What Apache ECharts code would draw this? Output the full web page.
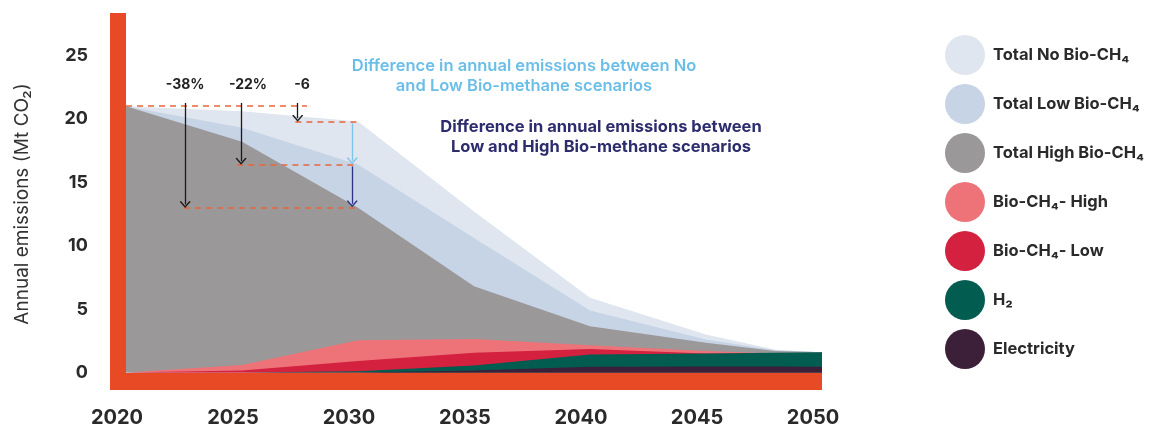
<!DOCTYPE html>
<html>
<head>
<meta charset="utf-8">
<script src="https://cdn.jsdelivr.net/npm/echarts@6.0.0/dist/echarts.min.js"></script>
<style>
  html, body { margin: 0; padding: 0; background: #ffffff; }
  #chart { width: 1156px; height: 428px; }
</style>
</head>
<body>
<div id="chart"></div>
<script>
// ---------------- data ----------------
const years      = [2020, 2025, 2030, 2035, 2040, 2045, 2048, 2050];
const totalNo    = [21.0, 20.6, 19.8, 12.7, 5.9, 3.0, 1.8, 1.6];
const totalLow   = [21.0, 19.3, 16.4, 10.6, 4.9, 2.6, 1.75, 1.6];
const totalHigh  = [21.0, 18.2, 13.0, 6.8, 3.65, 2.35, 1.7, 1.6];
const bioHigh    = [0, 0.6, 2.55, 2.65, 2.15, 1.7, 1.5, 1.5];
const bioLow     = [0, 0.15, 0.9, 1.55, 1.85, 1.5, 1.5, 1.5];
const h2         = [0, 0, 0.1, 0.55, 1.42, 1.5, 1.55, 1.6];
const electricity= [0, 0, 0, 0.15, 0.45, 0.48, 0.47, 0.45];

const seriesNames = ['Total No Bio-CH\u2084', 'Total Low Bio-CH\u2084', 'Total High Bio-CH\u2084',
                     'Bio-CH\u2084- High', 'Bio-CH\u2084- Low', 'H\u2082', 'Electricity'];
const xTickLabels = [2020, 2025, 2030, 2035, 2040, 2045, 2050];
const yTickLabels = [0, 5, 10, 15, 20, 25];

// annotation data
const dropLabels     = ['-38%', '-22%', '-6'];
const dropLabelYears = [2022.55, 2025.26, 2027.59];
const dropArrowYears = [2022.55, 2024.96, 2027.4];
const dropStartYears = [2022.5, 2024.8, 2027.3];
const refYear = 2030;
const arrowTop = 21.26;
const labelLevel = 22.7;
const baseDashEnd = 2027.8;
const diffArrowYear = 2029.75;

// ---------------- styles ----------------
const colors = ['#E0E6EF', '#C6D4E5', '#9A9899', '#EE7379', '#D3213F', '#035C50', '#3C1F38'];
const axisRed = '#E84A25';
const dashColor = '#E8663A';
const FONT = 'Inter, "Noto Sans", sans-serif';
const chevron = 'path://M0,9 L6,0 L12,9 L10.6,10 L6,3 L1.4,10 Z';

const allData = [totalNo, totalLow, totalHigh, bioHigh, bioLow, h2, electricity];

function areaSeries(i) {
  return {
    name: seriesNames[i],
    type: 'line',
    data: years.map((y, k) => [y, allData[i][k]]),
    symbol: 'none',
    color: colors[i],
    itemStyle: { color: colors[i] },
    lineStyle: { width: 0 },
    areaStyle: { color: colors[i], opacity: 1, origin: 0 },
    silent: true,
    z: 2
  };
}

const series = seriesNames.map((n, i) => areaSeries(i));

const dashStyle = { color: dashColor, type: [6, 5], width: 1.6 };
const levels = [totalHigh[2], totalLow[2], totalNo[2]];

const mlData = [];
mlData.push([{ coord: [years[0], totalNo[0]], lineStyle: dashStyle }, { coord: [baseDashEnd, totalNo[0]] }]);
for (let i = 0; i < 3; i++) {
  mlData.push([{ coord: [dropStartYears[i], levels[i]], lineStyle: dashStyle }, { coord: [refYear, levels[i]] }]);
}
for (let i = 0; i < 3; i++) {
  mlData.push([
    { coord: [dropArrowYears[i], arrowTop], lineStyle: { color: '#1a1a1a', width: 1.3, type: 'solid' } },
    { coord: [dropArrowYears[i], levels[i] + 0.25], symbol: chevron, symbolSize: [11, 7] }
  ]);
}
mlData.push([
  { coord: [diffArrowYear, totalNo[2] - 0.15], lineStyle: { color: '#7EC4EA', width: 1.3, type: 'solid' } },
  { coord: [diffArrowYear, totalLow[2] + 0.3], symbol: chevron, symbolSize: [11, 7] }
]);
mlData.push([
  { coord: [diffArrowYear, totalLow[2] - 0.15], lineStyle: { color: '#2E3282', width: 1.3, type: 'solid' } },
  { coord: [diffArrowYear, totalHigh[2] + 0.3], symbol: chevron, symbolSize: [11, 7] }
]);

series[6].markLine = {
  silent: true,
  symbol: ['none', 'none'],
  animation: false,
  label: { show: false },
  data: mlData
};
series[6].markPoint = {
  silent: true,
  symbol: 'circle',
  symbolSize: 0,
  animation: false,
  label: {
    show: true, position: 'inside', color: '#222', fontSize: 14, fontWeight: 'bold',
    fontFamily: FONT, formatter: p => p.name
  },
  data: dropLabels.map((t, i) => ({ name: t, coord: [dropLabelYears[i], labelLevel] }))
};

const option = {
  animation: false,
  backgroundColor: '#ffffff',
  grid: { left: 110, right: 334, top: 13, bottom: 46.5, containLabel: false },
  xAxis: {
    type: 'value',
    min: 2019.31,
    max: 2050,
    axisLine: { show: true, onZero: false, lineStyle: { color: axisRed, width: 17, cap: 'butt' } },
    axisTick: { show: false },
    splitLine: { show: false },
    axisLabel: {
      customValues: xTickLabels,
      formatter: v => String(v),
      margin: 27,
      padding: [0, 18, 0, 0],
      color: '#2a2a2a', fontSize: 20, fontWeight: 'bold', fontFamily: FONT
    }
  },
  yAxis: {
    type: 'value',
    min: -0.669,
    max: 28.35,
    offset: -8,
    name: 'Annual emissions (Mt CO\u2082)',
    nameLocation: 'middle',
    nameGap: 86,
    nameTextStyle: { color: '#333', fontSize: 19, fontFamily: FONT, fontWeight: 'normal', padding: [0, 14, 0, 0] },
    axisLine: { show: true, onZero: false, lineStyle: { color: axisRed, width: 16, cap: 'butt' } },
    axisTick: { show: false },
    splitLine: { show: false },
    axisLabel: {
      customValues: yTickLabels,
      margin: 30,
      color: '#2a2a2a', fontSize: 18, fontWeight: 'bold', fontFamily: FONT
    }
  },
  legend: {
    orient: 'vertical',
    left: 945,
    top: 35,
    padding: 0,
    itemWidth: 40,
    itemHeight: 40,
    itemGap: 9,
    icon: 'circle',
    selectedMode: false,
    data: seriesNames,
    textStyle: { color: '#2a2a2a', fontSize: 16.5, fontWeight: 'bold', fontFamily: FONT, padding: [0, 0, 0, 3] }
  },
  graphic: [
    {
      type: 'text', silent: true,
      style: {
        x: 524, y: 56, text: 'Difference in annual emissions between No\nand Low Bio-methane scenarios',
        align: 'center', verticalAlign: 'top', lineHeight: 20,
        font: '600 16.5px ' + FONT, fill: '#6BBEE8'
      }
    },
    {
      type: 'text', silent: true,
      style: {
        x: 601, y: 117, text: 'Difference in annual emissions between\nLow and High Bio-methane scenarios',
        align: 'center', verticalAlign: 'top', lineHeight: 20,
        font: '700 16.5px ' + FONT, fill: '#2D2C6D'
      }
    }
  ],
  series: series
};

const chart = echarts.init(document.getElementById('chart'), null, { renderer: 'canvas', devicePixelRatio: 1 });
chart.setOption(option);
</script>
</body>
</html>
